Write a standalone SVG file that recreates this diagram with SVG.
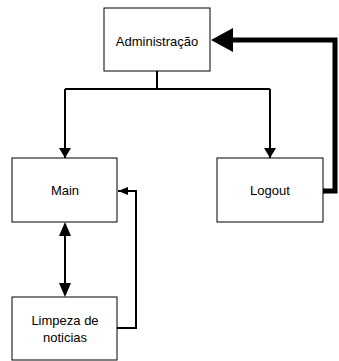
<svg xmlns="http://www.w3.org/2000/svg" width="339" height="361" viewBox="0 0 339 361">
<style>
.box{fill:#fff;stroke:#000;stroke-width:1}
.t{font-family:"Liberation Sans",Arial,sans-serif;font-size:13px;fill:#000;text-anchor:middle}
.c{fill:none;stroke:#000;stroke-width:2}
</style>
<defs>
<marker id="ah" markerWidth="10" markerHeight="12" refX="10" refY="6" orient="auto" markerUnits="userSpaceOnUse">
<path d="M0,0 L10,6 L0,12 Z" fill="#000"/>
</marker>
<marker id="ahs" markerWidth="10" markerHeight="8" refX="10" refY="4" orient="auto" markerUnits="userSpaceOnUse">
<path d="M0,0 L10,4 L0,8 Z" fill="#000"/>
</marker>
</defs>
<g id="connectors">
<path class="c" d="M157,71 V89"/>
<path class="c" d="M65,89 H270"/>
<path class="c" d="M65,89 V158" marker-end="url(#ah)"/>
<path class="c" d="M270,89 V158" marker-end="url(#ah)"/>
<path class="c" d="M65,234 V285"/>
<path d="M65,222 L59,236 L71,236 Z" fill="#000"/>
<path d="M65,297 L59,283 L71,283 Z" fill="#000"/>
<path class="c" d="M117,328 H136 V191 H118" marker-end="url(#ahs)"/>
<path fill="none" stroke="#000" stroke-width="5" d="M323,191 H335 V40 H230"/>
<circle cx="322" cy="191" r="3" fill="#000"/>
<path d="M211,40 L233,28 L233,52 Z" fill="#000"/>
</g>
<g id="admin"><rect class="box" x="104" y="8" width="106" height="63"/><text class="t" x="157" y="46">Administração</text></g>
<g id="main"><rect class="box" x="12" y="158" width="105" height="64"/><text class="t" x="65" y="195">Main</text></g>
<g id="logout"><rect class="box" x="217" y="158" width="106" height="64"/><text class="t" x="270" y="195">Logout</text></g>
<g id="limpeza"><rect class="box" x="12" y="297" width="105" height="63"/><text class="t" x="65" y="325">Limpeza de</text><text class="t" x="65" y="342">noticias</text></g>
</svg>
